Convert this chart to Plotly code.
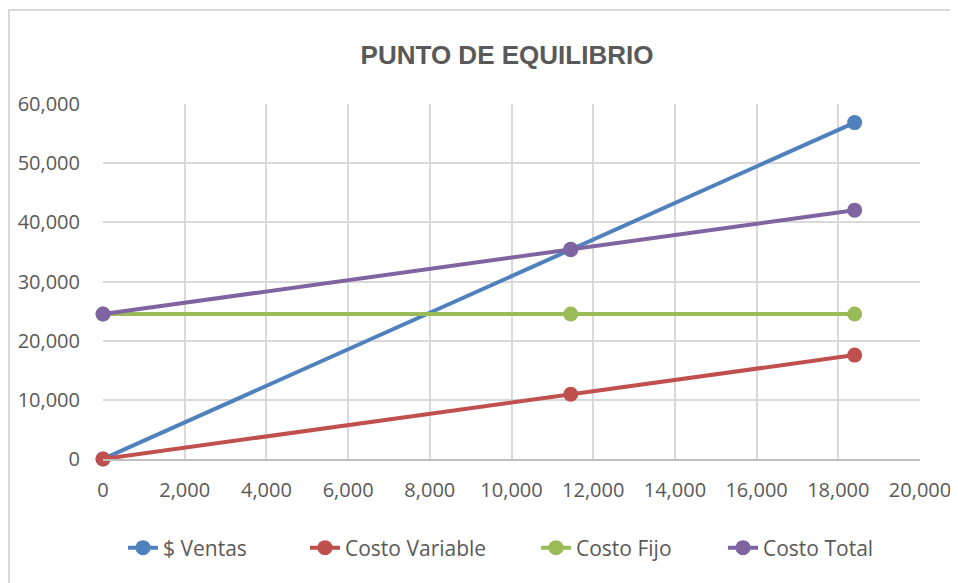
import plotly.graph_objects as go

unidades = [0, 11450, 18400]
ventas = [0, 35380, 56860]
costo_variable = [0, 10950, 17560]
costo_fijo = [24500, 24500, 24500]
costo_total = [24500, 35450, 42060]

series = [
    ("$ Ventas", ventas, "#4F81BD"),
    ("Costo Variable", costo_variable, "#C0504D"),
    ("Costo Fijo", costo_fijo, "#9BBB59"),
    ("Costo Total", costo_total, "#8064A2"),
]
# screen x where each legend label's text starts
legend_text_x = [165, 347, 578, 765]

# page body has an 8px margin, so figure coords = screen coords - 8
OFF = 8
W, H = 958 - OFF, 583 - OFF
L, R, T, B = 103 - OFF, 38, 104 - OFF, 124
pw, ph = W - L - R, H - T - B

def px_x(p):
    return (p - OFF - L) / pw

def px_y(p):
    return (H - B - (p - OFF)) / ph

legend_font = dict(family="Open Sans, DejaVu Sans, sans-serif", size=21, color="#595959")

fig = go.Figure()
legend_layouts = {}
for i, (name, vals, col) in enumerate(series):
    lname = "legend" if i == 0 else f"legend{i + 1}"
    fig.add_trace(go.Scatter(
        x=unidades, y=vals, name=name, mode="lines+markers",
        line=dict(color=col, width=4),
        marker=dict(color=col, size=15),
        cliponaxis=False, legend=lname,
    ))
    legend_layouts[lname] = dict(
        orientation="h", x=px_x(legend_text_x[i] - 42), xanchor="left",
        y=px_y(548), yanchor="middle", font=legend_font,
        bgcolor="rgba(0,0,0,0)", borderwidth=0,
    )

tick_font = dict(family="Open Sans, DejaVu Sans, sans-serif", size=20, color="#595959")

fig.update_layout(
    width=W, height=H,
    margin=dict(l=L, r=R, t=T, b=B, autoexpand=False),
    paper_bgcolor="white", plot_bgcolor="white",
    title=dict(text="<b>PUNTO DE EQUILIBRIO</b>", x=(507 - OFF) / W, xanchor="center", xref="container",
               y=1 - (55 - OFF) / H, yanchor="middle", yref="container",
               font=dict(family="Liberation Sans, Arial, sans-serif", size=26, color="#595959")),
    xaxis=dict(range=[0, 20000], tickvals=list(range(0, 20001, 2000)), tickformat=",d",
               showgrid=True, gridcolor="#d9d9d9", gridwidth=1.5, zeroline=False,
               showline=True, linecolor="#bfbfbf", linewidth=1.5,
               ticks="outside", ticklen=12, tickcolor="rgba(0,0,0,0)",
               tickfont=tick_font, fixedrange=True),
    yaxis=dict(range=[0, 60000], tickvals=list(range(0, 60001, 10000)), tickformat=",d",
               showgrid=True, gridcolor="#d9d9d9", gridwidth=1.5, zeroline=False,
               showline=False,
               ticks="outside", ticklen=18, tickcolor="rgba(0,0,0,0)",
               tickfont=tick_font, fixedrange=True),
    showlegend=True,
    shapes=[dict(type="rect", xref="paper", yref="paper",
                 x0=px_x(9), x1=px_x(964), y0=px_y(592), y1=px_y(10),
                 line=dict(color="#d9d9d9", width=2), fillcolor="rgba(0,0,0,0)", layer="below")],
    **legend_layouts,
)

fig.write_html("out.html")
